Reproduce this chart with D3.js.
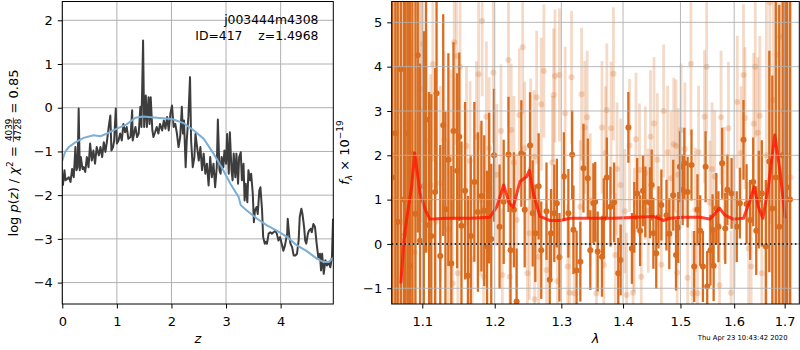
<!DOCTYPE html>
<html>
<head>
<meta charset="utf-8">
<script src="https://cdnjs.cloudflare.com/ajax/libs/d3/7.8.5/d3.min.js"></script>
<style>
  body { margin: 0; background: #fff; }
  svg { display: block; font-family: "DejaVu Sans", sans-serif; }
</style>
</head>
<body>
<svg width="800" height="350"></svg>
<script>
// p(z) curve (left)
var zGrid = [0.01,0.04,0.06,0.12,0.15,0.18,0.21,0.24,0.26,0.28,0.30,0.32,0.34,0.37,0.39,0.42,0.45,0.48,0.51,0.54,0.57,0.60,0.63,0.67,0.70,0.73,0.76,0.79,0.82,0.85,0.88,0.90,0.93,0.95,0.98,1.00,1.03,1.06,1.09,1.12,1.15,1.18,1.21,1.25,1.28,1.29,1.32,1.34,1.37,1.40,1.43,1.45,1.48,1.50,1.53,1.55,1.58,1.60,1.62,1.65,1.67,1.70,1.73,1.76,1.79,1.83,1.86,1.89,1.92,1.95,1.98,2.01,2.04,2.07,2.10,2.13,2.16,2.19,2.21,2.23,2.26,2.28,2.31,2.34,2.36,2.39,2.42,
  2.44,2.50,2.53,2.56,2.59,2.62,2.65,2.68,2.71,2.74,2.77,2.80,2.83,2.85,2.88,2.90,2.92,2.95,2.97,3.00,3.02,3.05,3.07,3.10,3.12,3.14,3.17,3.19,3.22,3.24,3.27,3.29,3.32,3.34,3.36,3.39,3.41,3.44,3.46,3.49,3.51,3.53,3.56,3.58,3.61,3.63,3.66,3.68,3.71,3.73,3.75,3.78,3.81,3.84,3.87,3.90,3.93,3.96,3.99,4.02,4.05,4.08,4.12,4.13,4.16,4.18,4.21,4.24,4.27,4.30,4.33,4.35,4.38,4.40,4.43,4.45,4.47,4.50,4.52,4.55,4.57,4.60,4.63,4.66,4.69,4.72,4.74,4.76,4.79,4.82,4.85,4.88,4.91,4.94,4.96];
var logPz = [-1.78,-1.43,-1.66,-1.59,-1.70,-1.40,-1.59,-0.90,-1.43,-1.36,-0.02,-1.43,-1.13,-1.40,-1.36,-1.47,-1.13,-1.36,-0.82,-1.21,-0.98,-1.28,-0.90,-1.09,-0.90,-1.13,-0.79,-1.01,-0.75,-0.44,-0.18,-0.98,-0.90,-0.75,-0.02,-0.82,-0.75,-0.59,-0.75,-0.37,-0.56,-0.44,-0.71,-0.67,-0.06,-0.75,-0.56,-0.44,-0.67,-0.59,0.02,-0.44,1.54,-0.44,0.28,-0.44,0.24,-0.37,0.24,-0.52,-0.67,-0.56,-0.44,-0.59,-0.37,-0.52,-0.29,-0.48,-0.21,-0.52,-0.14,0.05,-0.44,-0.37,-0.59,-0.90,-0.67,0.02,-0.59,-0.29,-1.36,-0.75,-0.21,0.70,-0.75,-1.36,-1.13,
  -0.60,-1.21,-0.90,-1.43,-1.05,-1.51,-1.28,-1.78,-1.13,-1.59,-1.28,-1.82,-1.36,-0.27,-1.43,-1.51,-1.13,-1.36,-0.98,-1.28,-0.60,-1.51,-0.56,-1.43,-1.66,-1.05,-1.59,-1.05,-1.74,-1.13,-1.02,-1.66,-1.28,-2.12,-1.74,-2.16,-1.43,-1.66,-1.51,-1.97,-2.62,-2.35,-2.27,-2.43,-1.89,-1.82,-2.35,-2.96,-3.11,-3.07,-3.11,-2.88,-2.85,-2.88,-2.85,-2.81,-2.88,-3.04,-2.96,-3.11,-3.27,-3.15,-2.88,-2.54,-2.96,-3.11,-3.19,-3.38,-3.38,-3.34,-3.04,-2.50,-2.31,-2.43,-2.73,-3.04,-3.11,-2.88,-2.81,-2.77,-2.85,-2.66,-2.73,-3.11,-3.42,-3.34,-3.72,-3.34,-3.80,-3.49,-3.61,-3.53,-3.65,-3.42,-2.54];

// smooth prior curve (left, blue)
var zFit = [0,0.05,0.12,0.24,0.39,0.57,0.70,0.82,1.00,1.18,1.34,1.49,1.73,2.01,2.22,2.41,2.59,2.77,2.92,3.08,3.23,3.27,3.38,3.57,3.75,3.93,4.11,4.30,4.48,4.66,4.79,4.88,4.965];
var logPzFit = [-1.21,-1.01,-0.90,-0.79,-0.69,-0.63,-0.65,-0.59,-0.48,-0.38,-0.23,-0.20,-0.23,-0.26,-0.35,-0.52,-0.71,-1.05,-1.36,-1.74,-2.04,-2.23,-2.35,-2.54,-2.69,-2.81,-2.95,-3.15,-3.28,-3.45,-3.53,-3.53,-3.43];

// spectrum, dark points
var lamA = [1.061,1.065,1.068,1.072,1.076,1.078,1.081,1.084,1.087,1.091,1.094,1.097,1.102,1.105,1.109,1.112,1.117,1.119,1.124,1.128,1.131,1.135,1.139,1.142,1.147,1.150,1.153,1.158,1.162,1.166,1.171,1.176,1.181,1.185,1.189,1.192,1.195,1.199,1.207,1.213,1.220,1.223,1.228,1.232,1.239,1.244,1.252,1.256,1.260,1.265,1.269,1.277,1.282,1.284,1.289,1.293,1.297,1.304,1.311,1.317,1.319,1.324,1.330,1.335,1.342,1.346,1.351,1.354,1.358,1.365,1.368,1.373,1.379,1.385,1.392,1.396,1.409,1.415,1.419,1.424,1.429,1.434,1.438,1.446,1.449,1.452,1.457,1.461,1.466,1.475,1.480,1.487,1.492,1.496,1.499,1.504,1.507,1.513,1.520,1.525,1.531,1.536,1.541,1.546,1.549,1.555,1.559,1.561,1.566,1.570,1.577,1.583,1.587,1.595,1.605,1.611,1.618,1.624,1.631,1.637,1.643,1.648,1.654,1.662,1.669,1.675,1.682,1.689,1.696,1.701,1.705,1.711];
var fluxA = [1.5,2.5,0.5,3.94,1.0,0.22,2.5,-0.5,2.03,0.68,4.26,0.07,1.3,2.8,0.43,0.18,1.17,3.40,-0.27,2.68,0.78,1.9,-0.44,2.55,1.65,2.42,0.41,1.2,-0.72,0.18,1.4,0.72,1.08,0.75,-0.05,1.26,0.11,2.0,0.39,0.95,2.02,-0.14,0.77,-1.30,2.04,0.77,2.22,0.69,0.24,1.3,-0.14,0.74,-0.81,0.24,0.69,0.92,-0.3,1.52,0.69,2.01,0.32,-0.6,-0.40,1.71,1.48,-0.14,0.92,0.95,-0.17,-0.29,0.58,1.5,0.84,0.94,-0.66,-0.36,2.63,-0.10,0.6,1.14,0.3,1.2,0.95,0.93,1.33,0.24,-0.21,0.6,0.88,0.65,0.23,1.1,-0.25,0.37,1.74,1.22,1.82,1.17,1.78,-0.51,0.77,0.3,-0.51,1.74,-0.96,-0.14,0.32,-0.49,0.8,0.39,1.82,0.35,1.22,1.14,0.39,0.92,2.35,0.9,0.54,1.4,0.3,1.0,1.14,-0.06,1.86,0.8,1.5,0.39,2.0,0.5,1.28,1.0];
var errA = [9,9,8,7,9,6,8,6,5,5,4,4,3.5,3,3,3.2,2.8,2.2,2.5,2.5,2.2,2.4,2.2,2.0,2.2,1.9,1.9,2.0,1.8,1.8,1.8,1.8,1.7,1.7,1.7,1.7,1.7,1.5,1.4,1.4,1.3,1.4,1.3,1.2,1.2,1.3,1.2,1.2,1.1,1.2,1.1,1.1,1.1,1.0,1.1,1.0,1.0,1.0,1.0,1.0,1.0,0.9,0.9,1.0,0.9,0.9,0.9,0.9,0.9,0.9,0.9,0.9,0.9,0.9,0.8,0.8,0.8,0.8,0.8,0.8,0.8,0.8,0.8,0.8,0.8,0.8,0.8,0.7,0.8,0.8,0.8,0.8,0.8,0.8,0.8,0.8,0.8,0.8,0.8,0.8,0.8,0.8,0.8,0.8,0.8,0.8,0.8,0.8,0.8,0.8,0.8,0.8,0.8,0.8,0.8,0.8,0.9,0.9,0.9,1.0,1.0,1.1,1.2,1.5,2.5,3,4,5,7,9,8,10];

// spectrum, light points
var lamB = [1.063,1.066,1.070,1.074,1.080,1.083,1.085,1.090,1.096,1.098,1.101,1.105,1.111,1.114,1.118,1.124,1.129,1.135,1.138,1.141,1.143,1.146,1.148,1.151,1.160,1.165,1.168,1.174,1.177,1.180,1.182,1.184,1.188,1.192,1.198,1.203,1.209,1.211,1.220,1.222,1.224,1.228,1.232,1.236,1.241,1.244,1.248,1.251,1.253,1.258,1.259,1.262,1.265,1.269,1.273,1.277,1.286,1.288,1.290,1.294,1.297,1.306,1.310,1.313,1.316,1.320,1.330,1.332,1.337,1.341,1.346,1.356,1.365,1.368,1.371,1.373,1.380,1.384,1.387,1.390,1.396,1.403,1.406,1.411,1.417,1.419,1.422,1.428,1.431,1.438,1.443,1.447,1.453,1.459,1.466,1.470,1.477,1.483,1.488,1.492,1.494,1.496,1.501,1.508,1.513,1.519,1.522,1.527,1.531,1.533,1.544,1.548,1.554,1.558,1.563,1.572,1.575,1.581,1.589,1.594,1.600,1.606,1.613,1.618,1.621,1.628,1.633,1.638,1.641,1.646,1.650,1.654,1.663,1.670,1.677,1.685,1.691,1.698,1.705,1.712];
var fluxB = [2.0,1.0,3.0,0.5,2.71,1.62,1.09,-0.19,3.02,3.49,4.51,2.33,1.33,4.06,0.5,1.37,2.35,0.32,1.93,-0.89,4.55,4.24,-0.66,3.99,2.21,1.87,-0.35,2.42,3.83,0.99,5.03,-0.74,2.87,2.16,3.87,1.56,2.55,-0.70,4.15,-0.74,2.57,1.84,0.54,2.91,4.44,2.16,-0.66,0.24,2.23,1.97,-1.25,3.31,-0.29,3.15,3.90,-0.59,1.84,3.36,3.79,-0.84,3.81,2.95,-0.51,-1.10,3.76,-1.11,0.84,3.38,2.63,2.86,0.99,-1.11,2.63,-0.47,2.05,3.02,2.61,3.84,-0.25,1.69,1.33,0.74,-1.15,2.22,-1.10,0.32,2.36,1.67,-0.74,1.60,0.75,2.42,2.72,1.9,-0.47,3.0,2.07,1.48,2.25,2.21,-0.65,1.56,2.57,2.14,-0.76,4.06,-1.11,0.77,-1.11,2.07,2.87,4.00,0.93,1.69,1.52,-0.93,2.86,1.14,2.61,-1.10,0.5,3.2,2.06,3.81,2.84,-0.10,-0.51,2.71,4.00,2.51,2.89,-0.66,2.0,5.45,3.25,4.27,4.68,3.0,2.0,1.5];
var errB = [8,8,8,7,4,4,3.5,3,3,3,2.5,2.5,2.5,2.2,2.2,2.2,2.0,2.0,2.0,2.0,2.0,2.0,1.8,2.0,1.8,1.8,1.7,1.7,1.7,1.7,1.7,1.6,1.7,1.6,1.6,1.6,1.5,1.5,1.5,1.5,1.5,1.5,1.5,1.5,1.5,1.5,1.5,1.5,1.5,1.5,1.4,1.5,1.5,1.5,1.5,1.5,1.5,1.5,1.5,1.4,1.5,1.5,1.4,1.4,1.5,1.4,1.5,1.5,1.5,1.5,1.5,1.4,1.5,1.4,1.5,1.5,1.5,1.5,1.4,1.5,1.5,1.4,1.4,1.5,1.4,1.4,1.5,1.5,1.4,1.5,1.4,1.5,1.5,1.5,1.4,1.5,1.5,1.5,1.5,1.5,1.4,1.5,1.5,1.5,1.4,1.6,1.4,1.4,1.4,1.5,1.5,1.5,1.4,1.5,1.5,1.4,1.5,1.5,1.5,1.4,1.5,1.5,1.5,1.6,1.6,1.5,1.5,1.6,1.6,1.7,1.8,1.6,4,5,5,6,7,8,9,9];

// model spectrum (red)
var lamModel = [1.072,1.076,1.080,1.086,1.090,1.093,1.097,1.104,1.110,1.133,1.165,1.193,1.203,1.213,1.221,1.227,1.237,1.247,1.251,1.257,1.267,1.282,1.298,1.314,1.346,1.384,1.423,1.452,1.461,1.469,1.481,1.505,1.536,1.554,1.564,1.572,1.582,1.598,1.618,1.631,1.639,1.647,1.656,1.667,1.680,1.691,1.701];
var fluxModel = [-0.89,0.09,0.62,1.29,2.05,1.67,1.14,0.77,0.56,0.58,0.58,0.60,0.84,1.33,0.92,0.83,1.41,1.52,1.66,1.14,0.62,0.53,0.53,0.58,0.58,0.58,0.60,0.62,0.58,0.53,0.58,0.60,0.60,0.56,0.69,0.81,0.65,0.56,0.58,0.99,1.29,0.84,0.58,1.29,2.46,1.60,0.58];

var zTicks = [0, 1, 2, 3, 4];
var pTicks = [-4, -3, -2, -1, 0, 1, 2];
var lamTicks = [1.1, 1.2, 1.3, 1.4, 1.5, 1.6, 1.7];
var fTicks = [-1, 0, 1, 2, 3, 4, 5];

(() => {
    var svg = d3.select('svg');
    var gridColor = '#b0b0b0';
    var orange = '#d96c1e';

    var L = {x0: 62.3, x1: 333.3, y0: 1.5, y1: 304};
    var R = {x0: 391.7, x1: 799.3, y0: 1.5, y1: 304};

    var xZ = d3.scaleLinear().domain([0, 4.965]).range([L.x0, L.x1]);
    var yP = d3.scaleLinear().domain([-4.49, 2.43]).range([L.y1, L.y0]);
    var xLam = d3.scaleLog().domain([1.0603, 1.7302]).range([R.x0, R.x1]);
    var yF = d3.scaleLinear().domain([-1.355, 5.47]).range([R.y1, R.y0]);

    var defs = svg.append('defs');
    defs.append('clipPath').attr('id', 'clipL').append('rect')
        .attr('x', L.x0).attr('y', L.y0).attr('width', L.x1 - L.x0).attr('height', L.y1 - L.y0);
    defs.append('clipPath').attr('id', 'clipR').append('rect')
        .attr('x', R.x0).attr('y', R.y0).attr('width', R.x1 - R.x0).attr('height', R.y1 - R.y0);

    function grid(g, xs, ys, xScale, yScale, box) {
        g.selectAll('.gx').data(xs).enter().append('line')
            .attr('x1', d => xScale(d)).attr('x2', d => xScale(d))
            .attr('y1', box.y0).attr('y2', box.y1)
            .attr('stroke', gridColor).attr('stroke-width', 1);
        g.selectAll('.gy').data(ys).enter().append('line')
            .attr('y1', d => yScale(d)).attr('y2', d => yScale(d))
            .attr('x1', box.x0).attr('x2', box.x1)
            .attr('stroke', gridColor).attr('stroke-width', 1);
    }

    function styleAxis(g) {
        g.select('.domain').remove();
        g.attr('font-size', 13).attr('font-family', 'DejaVu Sans');
        g.selectAll('.tick line').attr('stroke', '#000').attr('stroke-width', 1);
        g.selectAll('.tick text').attr('fill', '#000');
    }

    //---------------- left panel
    grid(svg.append('g'), zTicks, pTicks, xZ, yP, L);

    var left = svg.append('g').attr('clip-path', 'url(#clipL)');
    var pz = zGrid.map((z, i) => [z, logPz[i]]);
    var fit = zFit.map((z, i) => [z, logPzFit[i]]);
    var lineL = d3.line().x(d => xZ(d[0])).y(d => yP(d[1]));

    left.append('path').attr('d', lineL(pz))
        .attr('fill', 'none').attr('stroke', '#3d3d3d').attr('stroke-width', 2)
        .attr('stroke-linejoin', 'round');
    left.append('path').attr('d', lineL(fit))
        .attr('fill', 'none').attr('stroke', '#7aaed6').attr('stroke-width', 2);

    svg.append('g').attr('transform', 'translate(0,' + L.y1 + ')')
        .call(d3.axisBottom(xZ).tickValues(zTicks).tickFormat(d3.format('d')).tickSize(4.5).tickPadding(8))
        .call(styleAxis);
    svg.append('g').attr('transform', 'translate(' + L.x0 + ',0)')
        .call(d3.axisLeft(yP).tickValues(pTicks).tickFormat(d3.format('d')).tickSize(4.5).tickPadding(5))
        .call(styleAxis);

    svg.append('rect').attr('x', L.x0).attr('y', L.y0)
        .attr('width', L.x1 - L.x0).attr('height', L.y1 - L.y0)
        .attr('fill', 'none').attr('stroke', '#000').attr('stroke-width', 1);

    var ann = svg.append('g').attr('font-size', 12.4).attr('text-anchor', 'end');
    ann.append('text').attr('x', 318.5).attr('y', 24).text('j003444m4308');
    ann.append('text').attr('x', 318.5).attr('y', 40).style('white-space', 'pre').text('ID=417    z=1.4968');

    svg.append('text').attr('x', (L.x0 + L.x1) / 2).attr('y', 343)
        .attr('text-anchor', 'middle').attr('font-size', 13).attr('font-style', 'italic').text('z');

    // y label with fraction
    var ylab = svg.append('g').attr('transform', 'translate(18,153) rotate(-90)');
    var inner = ylab.append('g');
    var t1 = inner.append('text').attr('font-size', 13).style('white-space', 'pre');
    t1.append('tspan').text('log ');
    t1.append('tspan').attr('font-style', 'italic').text('p');
    t1.append('tspan').text('(');
    t1.append('tspan').attr('font-style', 'italic').text('z');
    t1.append('tspan').text(') / ');
    t1.append('tspan').attr('font-style', 'italic').text('χ');
    t1.append('tspan').attr('font-size', 9).attr('dy', -5.5).text('2');
    t1.append('tspan').attr('dy', 5.5).text(' = ');
    var w1 = t1.node().getComputedTextLength();
    var num = inner.append('text').attr('font-size', 8.8).attr('text-anchor', 'middle').attr('y', -6.3).text('4039');
    var fw = num.node().getComputedTextLength() + 2;
    num.attr('x', w1 + fw / 2);
    inner.append('text').attr('font-size', 8.8).attr('text-anchor', 'middle')
        .attr('x', w1 + fw / 2).attr('y', 2.6).text('4728');
    inner.append('line').attr('x1', w1).attr('x2', w1 + fw).attr('y1', -4.6).attr('y2', -4.6)
        .attr('stroke', '#000').attr('stroke-width', 0.7);
    var t3 = inner.append('text').attr('font-size', 13).style('white-space', 'pre')
        .attr('x', w1 + fw).text(' = 0.85');
    var wTot = w1 + fw + t3.node().getComputedTextLength();
    inner.attr('transform', 'translate(' + (-wTot / 2) + ',0)');

    //---------------- right panel
    var right = svg.append('g').attr('clip-path', 'url(#clipR)');

    var light = lamB.map((l, i) => ({lam: l, f: fluxB[i], e: errB[i]}));
    var dark = lamA.map((l, i) => ({lam: l, f: fluxA[i], e: errA[i]}));

    var gl = right.append('g');
    gl.selectAll('line').data(light).enter().append('line')
        .attr('x1', d => xLam(d.lam)).attr('x2', d => xLam(d.lam))
        .attr('y1', d => yF(d.f - d.e)).attr('y2', d => yF(d.f + d.e))
        .attr('stroke', orange).attr('stroke-opacity', 0.25).attr('stroke-width', 2.8);
    gl.selectAll('circle').data(light).enter().append('circle')
        .attr('cx', d => xLam(d.lam)).attr('cy', d => yF(d.f)).attr('r', 3)
        .attr('fill', orange).attr('fill-opacity', 0.25);

    var gd = right.append('g');
    gd.selectAll('line').data(dark).enter().append('line')
        .attr('x1', d => xLam(d.lam)).attr('x2', d => xLam(d.lam))
        .attr('y1', d => yF(d.f - d.e)).attr('y2', d => yF(d.f + d.e))
        .attr('stroke', orange).attr('stroke-width', 2.3);
    gd.selectAll('circle').data(dark).enter().append('circle')
        .attr('cx', d => xLam(d.lam)).attr('cy', d => yF(d.f)).attr('r', 3)
        .attr('fill', orange);

    grid(svg.append('g').attr('opacity', 0.9), lamTicks, fTicks, xLam, yF, R);

    var model = lamModel.map((l, i) => [l, fluxModel[i]]);
    right.append('path')
        .attr('d', d3.line().x(d => xLam(d[0])).y(d => yF(d[1]))(model))
        .attr('fill', 'none').attr('stroke', '#ff1500').attr('stroke-opacity', 0.8)
        .attr('stroke-width', 3).attr('stroke-linejoin', 'round');

    svg.append('line').attr('x1', R.x0).attr('x2', R.x1)
        .attr('y1', yF(0)).attr('y2', yF(0))
        .attr('stroke', '#000').attr('stroke-width', 1.6).attr('stroke-dasharray', '1.6,2.6');

    svg.append('g').attr('transform', 'translate(0,' + R.y1 + ')')
        .call(d3.axisBottom(xLam).tickValues(lamTicks).tickFormat(d3.format('.1f')).tickSize(4.5).tickPadding(8))
        .call(styleAxis);
    svg.append('g').attr('transform', 'translate(' + R.x0 + ',0)')
        .call(d3.axisLeft(yF).tickValues(fTicks).tickFormat(d3.format('d')).tickSize(4.5).tickPadding(5))
        .call(styleAxis);

    svg.append('rect').attr('x', R.x0).attr('y', R.y0)
        .attr('width', R.x1 - R.x0).attr('height', R.y1 - R.y0)
        .attr('fill', 'none').attr('stroke', '#000').attr('stroke-width', 1);

    svg.append('text').attr('x', (R.x0 + R.x1) / 2).attr('y', 343)
        .attr('text-anchor', 'middle').attr('font-size', 13).attr('font-style', 'italic').text('λ');

    var flab = svg.append('text').attr('transform', 'translate(348.5,152.5) rotate(-90)')
        .attr('text-anchor', 'middle').attr('font-size', 13).style('white-space', 'pre');
    flab.append('tspan').attr('font-style', 'italic').text('f');
    flab.append('tspan').attr('font-style', 'italic').attr('font-size', 9).attr('dy', 3).text('λ');
    flab.append('tspan').attr('dy', -3).text(' × 10');
    flab.append('tspan').attr('font-size', 9).attr('dy', -5.5).text('−19');

    svg.append('text').attr('x', 787.5).attr('y', 340)
        .attr('text-anchor', 'end').attr('font-size', 6.8).text('Thu Apr 23 10:43:42 2020');
})();
</script>
</body>
</html>
